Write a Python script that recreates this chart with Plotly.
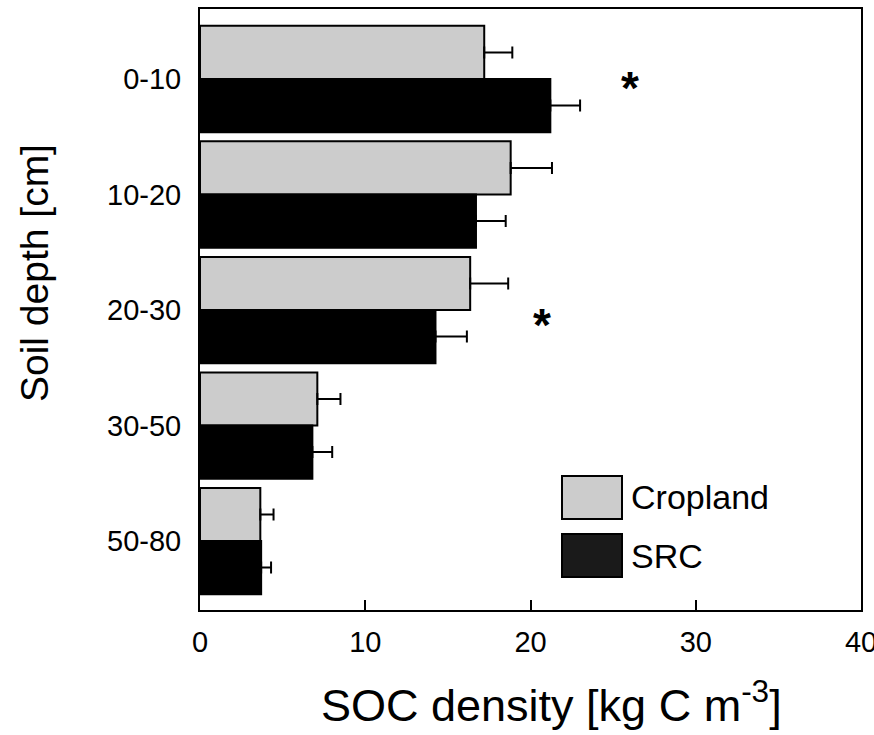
import plotly.graph_objects as go

depths = ["0-10", "10-20", "20-30", "30-50", "50-80"]
cropland = [17.2, 18.8, 16.35, 7.1, 3.65]
cropland_err = [1.7, 2.5, 2.3, 1.4, 0.8]
src = [21.2, 16.7, 14.25, 6.8, 3.7]
src_err = [1.8, 1.8, 1.9, 1.2, 0.6]
sig_depths = ["0-10", "20-30"]
sig_x = [26.0, 20.7]

FONT = "Liberation Sans, Arial, sans-serif"

fig = go.Figure()
fig.add_trace(go.Bar(
    y=depths, x=cropland, orientation="h", name="Cropland",
    marker=dict(color="#cccccc", line=dict(color="black", width=2)),
    error_x=dict(type="data", array=cropland_err, symmetric=False,
                 arrayminus=[0] * len(cropland_err), color="black",
                 thickness=2, width=6),
))
fig.add_trace(go.Bar(
    y=depths, x=src, orientation="h", name="SRC",
    marker=dict(color="black", line=dict(color="black", width=2)),
    error_x=dict(type="data", array=src_err, symmetric=False,
                 arrayminus=[0] * len(src_err), color="black",
                 thickness=2, width=6),
))

for d, xv, dy in zip(sig_depths, sig_x, [0.08, 0.13]):
    fig.add_annotation(x=xv, y=depths.index(d) + dy, xref="x", yref="y",
                       text="<b>*</b>", showarrow=False,
                       font=dict(family=FONT, size=46, color="black"))

# legend drawn manually (large swatches)
def px_x(p):
    return (p - 200) / 661.0

def px_y(p):
    return (610 - p) / 601.0

legend_items = [("Cropland", "#cccccc", 476, 519), ("SRC", "#1a1a1a", 534, 577)]
for name, col, y0, y1 in legend_items:
    fig.add_shape(type="rect", xref="paper", yref="paper",
                  x0=px_x(562), x1=px_x(622), y0=px_y(y1), y1=px_y(y0),
                  fillcolor=col, line=dict(color="black", width=2))
    fig.add_annotation(xref="paper", yref="paper", x=px_x(629),
                       y=px_y((y0 + y1) / 2), xanchor="left", yanchor="middle",
                       text=name, showarrow=False,
                       font=dict(family=FONT, size=34, color="black"))

# axis titles
fig.add_annotation(xref="paper", yref="paper", x=px_x(551), y=px_y(702),
                   text="SOC density [kg C m<sup>-3</sup>]", showarrow=False,
                   xanchor="center", yanchor="middle",
                   font=dict(family=FONT, size=45, color="black"))
fig.add_annotation(xref="paper", yref="paper", x=px_x(34), y=px_y(273),
                   text="Soil depth [cm]", showarrow=False, textangle=-90,
                   xanchor="center", yanchor="middle",
                   font=dict(family=FONT, size=39, color="black"))

fig.update_layout(
    width=874, height=735,
    margin=dict(l=200, r=13, t=9, b=125),
    paper_bgcolor="white", plot_bgcolor="white",
    barmode="group", bargap=0.08, bargroupgap=0,
    showlegend=False,
    font=dict(family=FONT, color="black"),
)
fig.update_xaxes(range=[0, 40], tickvals=[0, 10, 20, 30, 40],
                 ticks="inside", ticklen=10, tickwidth=2, tickcolor="black",
                 showline=True, linewidth=2, linecolor="black", mirror=True,
                 showgrid=False, zeroline=False, automargin=False,
                 ticklabeloverflow="allow",
                 tickfont=dict(family=FONT, size=29, color="black"),
                 ticklabelstandoff=5)
fig.update_yaxes(type="category", categoryorder="array", categoryarray=depths,
                 range=[4.597, -0.606], ticks="",
                 showline=True, linewidth=2, linecolor="black", mirror=True,
                 showgrid=False, zeroline=False, automargin=False,
                 tickfont=dict(family=FONT, size=29, color="black"),
                 ticklabelstandoff=11)

fig.write_html("out.html")
